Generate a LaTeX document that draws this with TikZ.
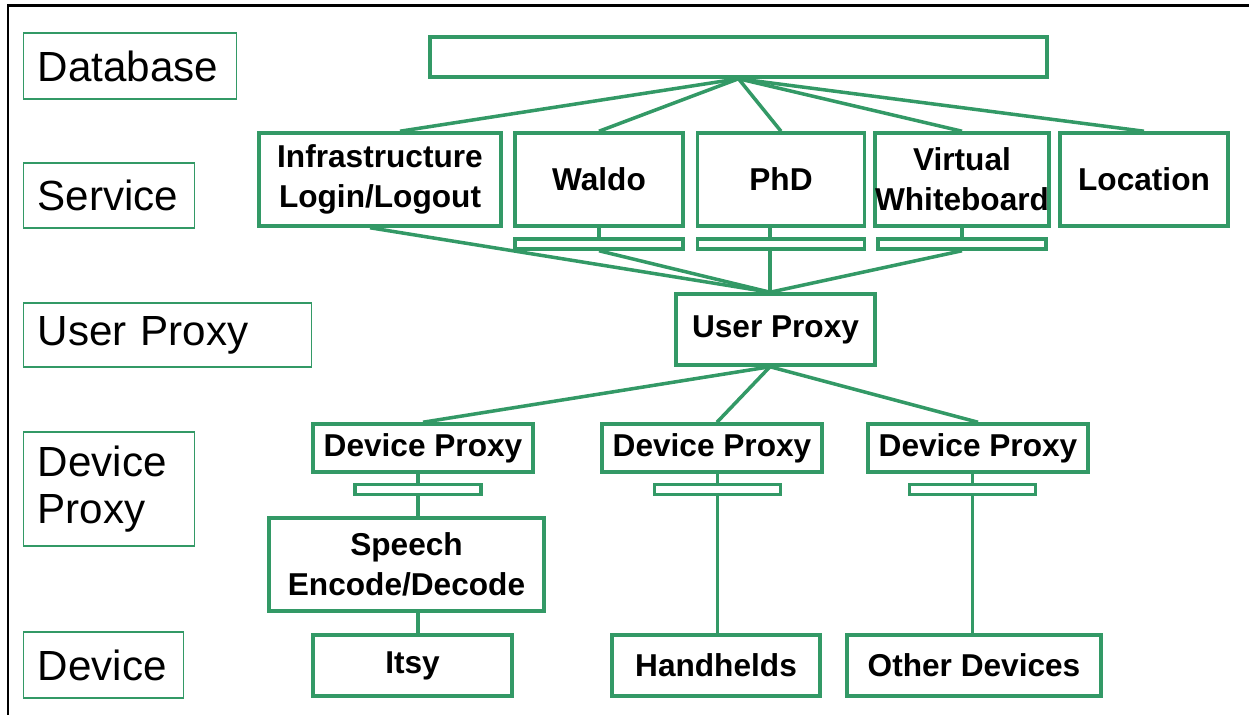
\documentclass[tikz,border=0pt]{standalone}
\usepackage{fontspec}
\setmainfont{Liberation Sans}
\definecolor{boxgreen}{RGB}{51,153,102}
\tikzset{
  unit/.style={draw=boxgreen, line width=2pt, font=\bfseries\fontsize{18}{22.7}\selectfont, align=center, inner sep=0pt},
  bar/.style={draw=boxgreen, line width=2pt, inner sep=0pt, minimum height=0.2cm},
  layer/.style={draw=boxgreen, line width=0.8pt, font=\fontsize{24}{27}\selectfont, align=left, inner xsep=0.28cm, inner ysep=0pt, anchor=west},
  link/.style={boxgreen, line width=2pt}
}
\begin{document}
\begin{tikzpicture}[x=0.02cm,y=-0.02cm]
\useasboundingbox (0,0) rectangle (1249,715);
\draw[line width=0.06cm] (8,715) -- (8,6) -- (1249,6);

% layer names on the left
\node[layer, text width=3.70cm, minimum height=1.32cm] (lbdb) at (23,66) {Database};
\node[layer, text width=2.86cm, minimum height=1.30cm] (lbsrv) at (23,195.5) {Service};
\node[layer, text width=5.20cm, minimum height=1.28cm] (lbup) at (23,335) {User Proxy};
\node[layer, text width=2.86cm, minimum height=2.28cm] (lbdp) at (23,489) {Device\\Proxy};
\node[layer, text width=2.64cm, minimum height=1.32cm] (lbdev) at (23,665) {Device};

% database
\node[bar, minimum width=12.34cm, minimum height=0.8cm] (db) at (738.5,57) {};

% services
\node[unit, minimum width=4.84cm, minimum height=1.86cm] (infra) at (380,179.5) {Infrastructure\\Login/Logout};
\node[unit, minimum width=3.36cm, minimum height=1.86cm] (waldo) at (599,179.5) {Waldo};
\node[unit, minimum width=3.34cm, minimum height=1.86cm] (phd) at (781,179.5) {PhD};
\node[unit, minimum width=3.36cm, minimum height=1.86cm] (vwb) at (962,179.5) {Virtual\\Whiteboard};
\node[unit, minimum width=3.36cm, minimum height=1.86cm] (loc) at (1144,179.5) {Location};
\node[bar, minimum width=3.36cm] (waldobar) at (599,244) {};
\node[bar, minimum width=3.34cm] (phdbar) at (781,244) {};
\node[bar, minimum width=3.36cm] (vwbbar) at (962,244) {};

% user proxy
\node[unit, minimum width=3.98cm, minimum height=1.42cm] (uproxy) at (775.5,329.5) {User Proxy};

% device proxies
\node[unit, minimum width=4.4cm, minimum height=0.96cm] (dpa) at (423,448) {Device Proxy};
\node[unit, minimum width=4.4cm, minimum height=0.96cm] (dpb) at (712,448) {Device Proxy};
\node[unit, minimum width=4.4cm, minimum height=0.96cm] (dpc) at (978,448) {Device Proxy};
\node[bar, minimum width=2.52cm] (dpbara) at (418,489.5) {};
\node[bar, minimum width=2.52cm] (dpbarb) at (717.5,489.5) {};
\node[bar, minimum width=2.52cm] (dpbarc) at (972.5,489.5) {};
\node[unit, minimum width=5.5cm, minimum height=1.86cm] (speech) at (406.5,564.5) {Speech\\Encode/Decode};

% devices
\node[unit, minimum width=3.98cm, minimum height=1.22cm] (itsy) at (412.5,665.5) {Itsy};
\node[unit, minimum width=4.16cm, minimum height=1.22cm] (hand) at (716,665.5) {Handhelds};
\node[unit, minimum width=5.08cm, minimum height=1.22cm] (other) at (974,665.5) {Other Devices};

% database to services
\draw[link] (db.south) -- ([xshift=0.4cm]infra.north);
\draw[link] (db.south) -- (waldo.north);
\draw[link] (db.south) -- (phd.north);
\draw[link] (db.south) -- (vwb.north);
\draw[link] (db.south) -- (loc.north);

% services to user proxy
\draw[link] (waldo.south) -- (waldobar.north);
\draw[link] ([xshift=-0.22cm]phd.south) -- ([xshift=-0.22cm]phdbar.north);
\draw[link] (vwb.south) -- (vwbbar.north);
\draw[link] ([xshift=-0.2cm]infra.south) -- ([xshift=-0.11cm]uproxy.north);
\draw[link] (waldobar.south) -- ([xshift=-0.11cm]uproxy.north);
\draw[link] ([xshift=-0.22cm]phdbar.south) -- ([xshift=-0.11cm]uproxy.north);
\draw[link] (vwbbar.south) -- ([xshift=-0.11cm]uproxy.north);

% user proxy to device proxies
\draw[link] ([xshift=-0.11cm]uproxy.south) -- (dpa.north);
\draw[link] ([xshift=-0.11cm]uproxy.south) -- ([xshift=0.1cm]dpb.north);
\draw[link] ([xshift=-0.11cm]uproxy.south) -- (dpc.north);

% device proxies down to devices
\draw[link] (dpa.south -| dpbara.north) -- (dpbara.north);
\draw[link] (dpbara.south) -- (speech.north -| dpbara.south);
\draw[link] (speech.south -| dpbara.south) -- (itsy.north -| dpbara.south);
\draw[link] (dpb.south -| dpbarb.north) -- (dpbarb.north);
\draw[link] (dpbarb.south) -- (hand.north -| dpbarb.south);
\draw[link] (dpc.south -| dpbarc.north) -- (dpbarc.north);
\draw[link] (dpbarc.south) -- (other.north -| dpbarc.south);
\end{tikzpicture}
\end{document}
